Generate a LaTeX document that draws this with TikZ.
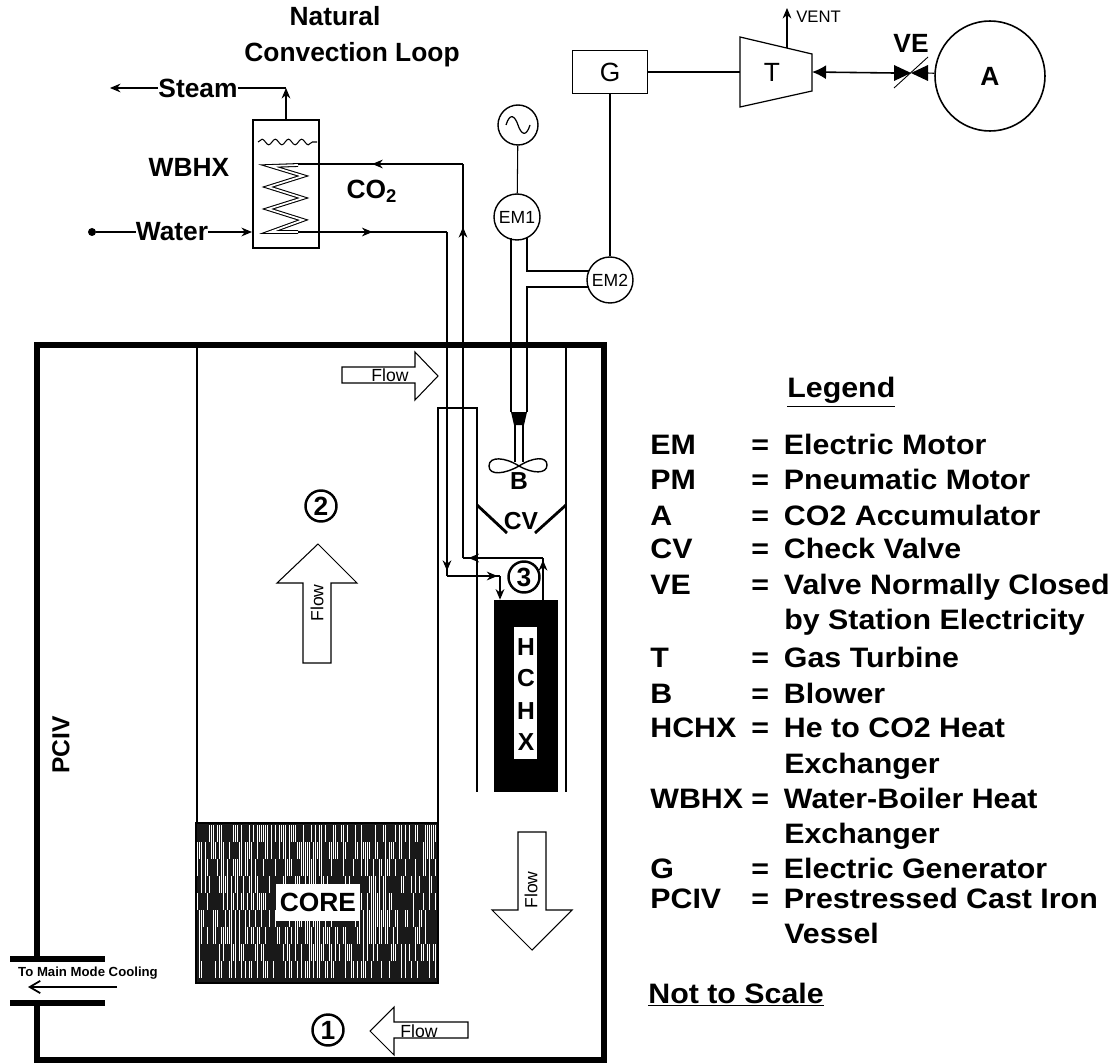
\documentclass[tikz,border=0pt]{standalone}
\usepackage{fontspec}
\setmainfont{Liberation Sans}
\newfontfamily\legfont[FakeStretch=1.08]{Liberation Sans}
\usetikzlibrary{arrows.meta,decorations.markings,decorations.pathmorphing}
\newcommand{\sizeL}{\fontsize{15}{17}\selectfont}
\newcommand{\sizeK}{\fontsize{14}{16}\selectfont}
\newcommand{\sizeM}{\fontsize{10}{12}\selectfont}
\newcommand{\legeq}{=\hspace{8.5pt}}
\begin{document}
\begin{tikzpicture}[
  x=0.02cm, y=-0.02cm,
  >={Stealth[length=6pt,width=5pt]},
  lbl/.style={font=\sizeL\bfseries, inner sep=0pt},
  lblk/.style={font=\sizeK\bfseries, inner sep=0pt},
  legkey/.style={font=\legfont\fontsize{16}{18}\selectfont\bfseries, inner sep=0pt, anchor=base west, yshift=-0.2cm},
  thinlbl/.style={font=\sizeM, inner sep=0pt},
  motor/.style={draw, circle, line width=0.8pt, fill=white, inner sep=0pt, minimum size=0.92cm, font=\sizeM},
  numcirc/.style={draw, circle, line width=1.4pt, fill=white, inner sep=0pt, minimum size=0.62cm, font=\sizeL\bfseries},
  wall/.style={line width=1.4pt},
  pipe/.style={line width=0.6pt},
  arrow/.style={->, line width=0.6pt},
  flowblock/.style={draw, line width=0.6pt, fill=white},
  midtip/.style={postaction={decorate, decoration={markings, mark=at position #1 with {\arrow{Stealth[length=6pt,width=5pt]}}}}}
]
\useasboundingbox (0,0) rectangle (1116,1064);

\draw[line width=3pt] (37,958) -- (37,345) -- (604,345) -- (604,1060) -- (37,1060) -- (37,1003);
\draw[line width=3.2pt] (10,959) -- (105,959);
\draw[line width=3.2pt] (10,1003) -- (105,1003);
\node[font=\fontsize{7.5}{9}\selectfont\bfseries, inner sep=0pt] (maincool) at (88,973) {To Main Mode Cooling};
\coordinate (coolin) at (117,987);
\coordinate (coolout) at (28,987);
\draw[-{Straight Barb[length=6pt,width=7pt]}, line width=1pt] (coolin) -- (coolout);
\node[lblk, rotate=90] (pciv) at (61,745) {PCIV};

\draw[wall] (197,345) -- (197,823);
\draw[wall] (438,823) -- (438,408) -- (477,408) -- (477,792);
\draw[wall] (566,345) -- (566,792);
\fill[black!90] (196,823) rectangle (438,983);
\pgfmathsetseed{7}
\foreach \i in {197,199,...,437}{
  \foreach \j in {825,842,...,965}{
    \pgfmathsetmacro{\lim}{0.45+0.25*sin(\i*5.5)*cos(\j*1.4)}
    \pgfmathparse{rnd<\lim?1:0}
    \ifnum\pgfmathresult=1
      \draw[white, line width=0.45pt] (\i,\j) -- (\i,\j+17);
    \fi
  }
}
\draw[wall] (196,823) rectangle (438,983);
\node[fill=white, font=\sizeL\bfseries, minimum width=1.68cm, minimum height=0.74cm, inner sep=0pt] (core) at (318,902) {CORE};

\draw[flowblock] (342,367) -- (415,367) -- (415,352) -- (438,376) -- (415,400) -- (415,383) -- (342,383) -- cycle;
\node[thinlbl] (flowa) at (390,375) {Flow};
\draw[flowblock] (303,663) -- (303,583) -- (277,583) -- (318,544) -- (357,583) -- (331,583) -- (331,663) -- cycle;
\node[thinlbl, rotate=90] (flowb) at (317,603) {Flow};
\draw[flowblock] (518,832) -- (546,832) -- (546,910) -- (572,910) -- (532,950) -- (492,910) -- (518,910) -- cycle;
\node[thinlbl, rotate=90] (flowc) at (531,890) {Flow};
\draw[flowblock] (468,1022) -- (394,1022) -- (394,1007) -- (370,1031) -- (394,1055) -- (394,1038) -- (468,1038) -- cycle;
\node[thinlbl] (flowd) at (419,1031) {Flow};

\node[numcirc] (one) at (328,1030) {1};
\node[numcirc] (two) at (321,506) {2};

\node[fill=black, minimum width=1.28cm, minimum height=3.84cm, inner sep=0pt] (hchx) at (526,696) {};
\fill[white] (514,627) rectangle (537,759);
\node[lblk] (hchxa) at (526,647) {H};
\node[lblk] (hchxb) at (526,678) {C};
\node[lblk] (hchxc) at (526,711) {H};
\node[lblk] (hchxd) at (526,742) {X};

\coordinate (cola) at (447,232);
\coordinate (colb) at (463,164);
\coordinate (downa) at (447,576);
\coordinate (inhx) at (500,576);
\coordinate (rethx) at (543,558);
\coordinate (retb) at (463,558);
\draw[pipe, midtip=0.985] (cola) -- (downa);
\draw[pipe, midtip=0.95] (downa) -- (inhx);
\draw[arrow] (inhx) -- (hchx.north -| inhx);
\draw[pipe, midtip=0.95] (hchx.north -| rethx) -- (rethx);
\draw[pipe, midtip=0.93] (rethx) -- (retb);
\draw[pipe, midtip=0.84] (retb) -- (colb);
\node[numcirc] (three) at (524,577) {3};

\node[draw, line width=1.2pt, minimum width=1.32cm, minimum height=2.56cm, inner sep=0pt] (wbhx) at (286,184) {};
\draw[line width=0.6pt, decorate, decoration={snake, segment length=7.5pt, amplitude=1.6pt}] (258,142) -- (317,142);
\draw[double=white, double distance=1pt, line width=0.6pt] (298,165) -- (270,166) -- (303,176) -- (268,187) -- (303,198) -- (268,209) -- (303,220) -- (270,232) -- (298,232);
\node[lbl] (wbhxlbl) at (189,167) {WBHX};
\node[lbl] (co2) at (372,191) {CO\textsubscript{2}};
\node[lbl] (steam) at (198,88) {Steam};
\node[lbl] (water) at (172,232) {Water};
\node[lbl] (nat) at (335,16) {Natural};
\node[lbl] (loop) at (352,55) {Convection Loop};
\coordinate (steamend) at (110,88);
\coordinate (steamup) at (286,88);
\draw[arrow] (steam) -- (steamend);
\draw[pipe] (steam) -- (steamup);
\draw[arrow] (wbhx.north) -- (steamup);
\node[circle, fill=black, inner sep=0pt, minimum size=0.16cm] (dot) at (92,232) {};
\draw[pipe] (dot) -- (water);
\draw[arrow] (water) -- (wbhx.west |- water);
\coordinate (coilin) at (298,164);
\coordinate (coilout) at (298,232);
\draw[pipe, midtip=0.55] (colb) -- (coilin);
\draw[pipe, midtip=0.5] (coilout) -- (cola);

\node[motor] (em1) at (517,217) {EM1};
\node[motor] (em2) at (610,280) {EM2};
\node[motor, minimum size=0.8cm] (ac) at (518,125) {};
\draw[line width=0.7pt] (506,125) .. controls (510,112) and (515,116) .. (518,125) .. controls (521,134) and (526,138) .. (530,125);
\draw[pipe] (ac) -- (em1);
\draw[line width=1pt] (511,238) -- (511,412);
\draw[line width=1pt] (527,238) -- (527,271) -- (589,271);
\draw[line width=1pt] (589,287) -- (527,287) -- (527,412);
\fill (511,412) -- (527,412) -- (524,425) -- (514,425) -- cycle;
\draw[line width=0.8pt] (515,425) -- (515,462);
\draw[line width=0.8pt] (523,425) -- (523,462);
\draw[line width=0.8pt] (519,466) .. controls (505,457) and (489,456) .. (489,466) .. controls (489,476) and (505,474) .. (519,466) .. controls (533,457) and (547,456) .. (547,465) .. controls (547,474) and (533,474) .. (519,466);
\node[lblk] (blower) at (519,481) {B};
\draw[line width=1.6pt] (477,505) -- (507,533);
\draw[line width=1.6pt] (566,505) -- (535,533);
\node[lblk] (cv) at (521,521) {CV};

\node[draw, line width=0.8pt, minimum width=1.5cm, minimum height=0.86cm, font=\sizeL, inner sep=0pt] (gen) at (610,72) {G};
\draw[line width=1.1pt] (gen) -- (em2);
\draw[line width=0.7pt] (740,37) -- (812,54) -- (812,91) -- (740,107) -- cycle;
\node[font=\sizeL, inner sep=0pt] (turb) at (772,72) {T};
\coordinate (tin) at (740,72);
\coordinate (tout) at (812,72);
\coordinate (tvent) at (787,48);
\coordinate (ventend) at (787,8);
\draw[pipe] (gen) -- (tin);
\draw[arrow] (tvent) -- (ventend);
\node[font=\fontsize{9.5}{11}\selectfont, inner sep=0pt, anchor=west] (vent) at (796,17) {VENT};
\node[draw, circle, line width=0.9pt, inner sep=0pt, minimum size=2.2cm, font=\sizeL\bfseries] (acc) at (990,76) {A};
\coordinate (ve) at (911,73);
\coordinate (veleft) at (894,73);
\coordinate (veright) at (928,73);
\draw[{Latex[length=8pt,width=8pt]}-, line width=0.9pt] (tout) -- (veleft);
\fill (894,65) -- (894,81) -- (ve) -- (928,65) -- (928,81) -- (ve) -- cycle;
\draw[pipe] (veright) -- (acc);
\draw[line width=0.5pt] (894,88) -- (928,57);
\node[lbl] (velbl) at (911,43) {VE};

\node[legkey] (leghead) at (787,388) {\underline{Legend}};
\node[legkey] (k1) at (650,445) {EM};
\node[legkey] (k2) at (650,480) {PM};
\node[legkey] (k3) at (650,515) {A};
\node[legkey] (k4) at (650,549) {CV};
\node[legkey] (k5) at (650,584) {VE};
\node[legkey] (k6) at (650,657) {T};
\node[legkey] (k7) at (650,693) {B};
\node[legkey] (k8) at (650,727) {HCHX};
\node[legkey] (k9) at (650,798) {WBHX};
\node[legkey] (k10) at (650,868) {G};
\node[legkey] (k11) at (650,898) {PCIV};
\node[legkey] (e1) at (751,445) {\legeq Electric Motor};
\node[legkey] (e2) at (751,480) {\legeq Pneumatic Motor};
\node[legkey] (e3) at (751,515) {\legeq CO2 Accumulator};
\node[legkey] (e4) at (751,549) {\legeq Check Valve};
\node[legkey] (e5) at (751,584) {\legeq Valve Normally Closed};
\node[legkey] (e5b) at (784,619) {by Station Electricity};
\node[legkey] (e6) at (751,657) {\legeq Gas Turbine};
\node[legkey] (e7) at (751,693) {\legeq Blower};
\node[legkey] (e8) at (751,727) {\legeq He to CO2 Heat};
\node[legkey] (e8b) at (784,763) {Exchanger};
\node[legkey] (e9) at (751,798) {\legeq Water-Boiler Heat};
\node[legkey] (e9b) at (784,833) {Exchanger};
\node[legkey] (e10) at (751,868) {\legeq Electric Generator};
\node[legkey] (e11) at (751,898) {\legeq Prestressed Cast Iron};
\node[legkey] (e11b) at (784,933) {Vessel};
\node[legkey] (noscale) at (648,993) {\underline{Not to Scale}};
\end{tikzpicture}
\end{document}
